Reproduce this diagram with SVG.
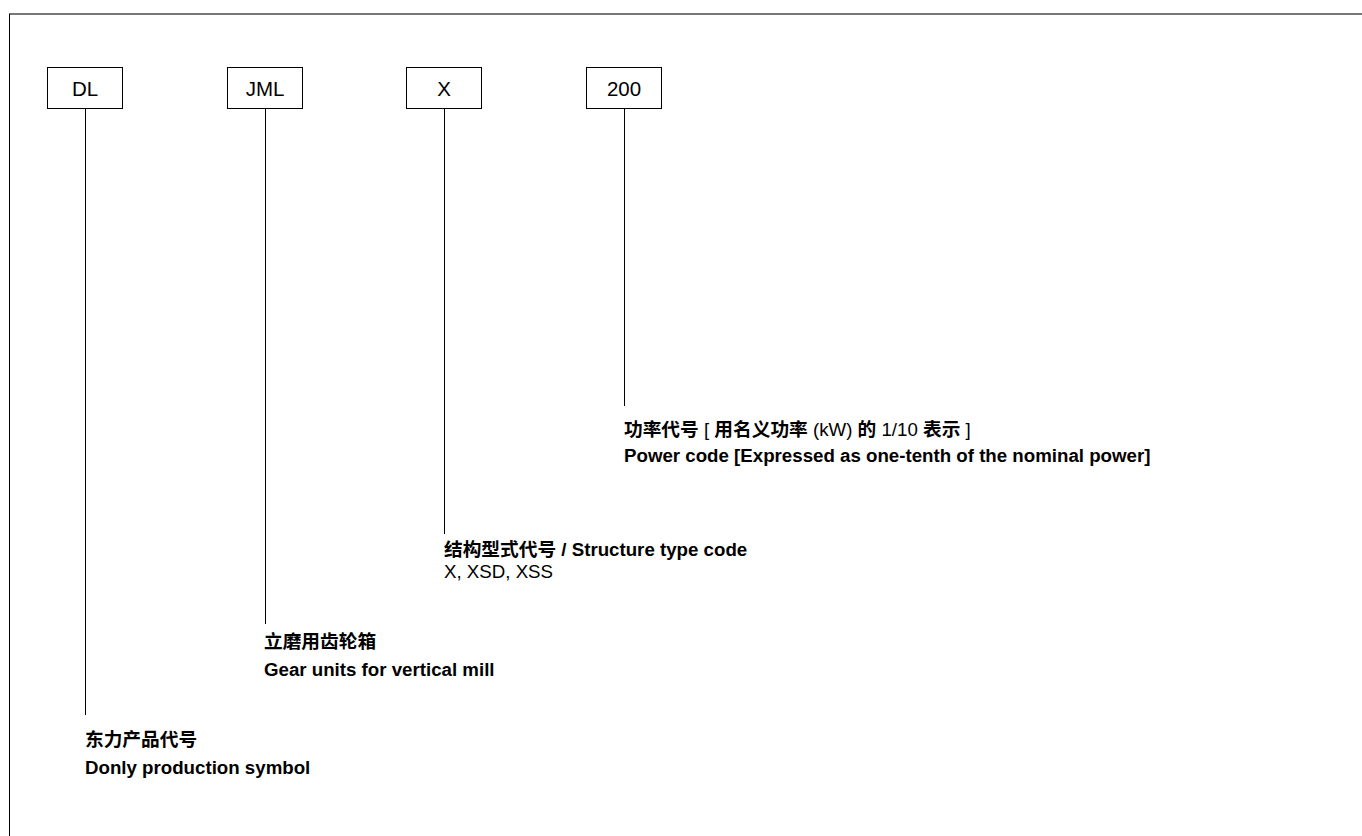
<svg xmlns="http://www.w3.org/2000/svg" width="1362" height="836" viewBox="0 0 1362 836">
<style>
.box{fill:#fff;stroke:#000;stroke-width:1}
.bt{font-family:"Liberation Sans",Arial,sans-serif;font-size:20.5px;fill:#000;text-anchor:middle}
.lb{font-family:"Liberation Sans","Noto Sans CJK SC",sans-serif;font-size:18.7px;font-weight:bold;fill:#000}
.lr{font-family:"Liberation Sans","Noto Sans CJK SC",sans-serif;font-size:18.7px;fill:#000}
.b{font-weight:bold}
.cn{stroke:#000;stroke-width:1;fill:none}
</style>
<rect width="1362" height="836" fill="#fff"/>
<line x1="9" y1="14" x2="1362" y2="14" stroke="#777" stroke-width="2"/>
<line x1="9.5" y1="14" x2="9.5" y2="836" stroke="#000" stroke-width="1"/>
<g id="connectors">
<line class="cn" x1="85.5" y1="108" x2="85.5" y2="715"/>
<line class="cn" x1="265.5" y1="108" x2="265.5" y2="624"/>
<line class="cn" x1="444.5" y1="108" x2="444.5" y2="534"/>
<line class="cn" x1="624.5" y1="108" x2="624.5" y2="406"/>
</g>
<g id="node-dl">
<rect class="box" x="47.5" y="67.5" width="75" height="41"/>
<text class="bt" x="85" y="96">DL</text>
</g>
<g id="node-jml">
<rect class="box" x="227.5" y="67.5" width="75" height="41"/>
<text class="bt" x="265" y="96">JML</text>
</g>
<g id="node-x">
<rect class="box" x="406.5" y="67.5" width="75" height="41"/>
<text class="bt" x="444" y="96">X</text>
</g>
<g id="node-200">
<rect class="box" x="586.5" y="67.5" width="75" height="41"/>
<text class="bt" x="624" y="96">200</text>
</g>
<g id="label-power">
<text class="lr" x="624" y="436"><tspan class="b">功率代号</tspan> [ <tspan class="b">用名义功率</tspan> (kW) <tspan class="b">的</tspan> 1/10 <tspan class="b">表示</tspan> ]</text>
<text class="lb" x="624" y="462">Power code [Expressed as one-tenth of the nominal power]</text>
</g>
<g id="label-structure">
<text class="lb" x="444" y="556">结构型式代号 / Structure type code</text>
<text class="lr" x="444" y="578">X, XSD, XSS</text>
</g>
<g id="label-gear">
<text class="lb" x="264" y="648">立磨用齿轮箱</text>
<text class="lb" x="264" y="676">Gear units for vertical mill</text>
</g>
<g id="label-donly">
<text class="lb" x="85" y="746">东力产品代号</text>
<text class="lb" x="85" y="774">Donly production symbol</text>
</g>
</svg>
